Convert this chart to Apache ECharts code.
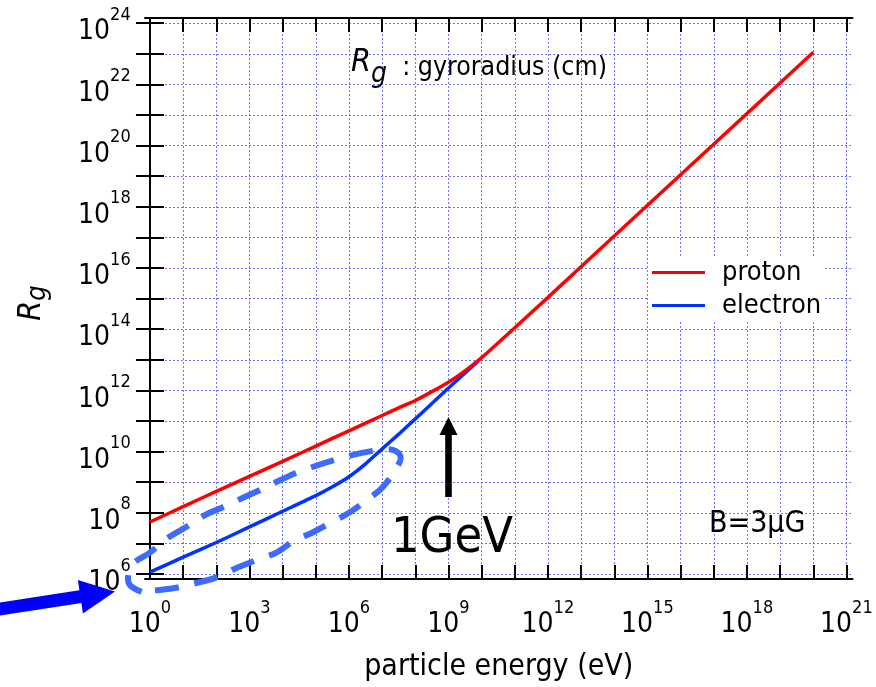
<!DOCTYPE html>
<html>
<head>
<meta charset="utf-8">
<script src="https://cdn.jsdelivr.net/npm/echarts@6.0.0/dist/echarts.min.js"></script>
<style>
html, body { margin: 0; padding: 0; background: #fff; }
#main { width: 876px; height: 687px; }
</style>
</head>
<body>
<div id="main"></div>
<script>
// values are log10: particle energy (eV) -> gyroradius (cm), B = 3 uG
var protonLogE = [0, 1, 2, 3, 4, 5, 6, 7, 7.5, 8, 8.5, 9, 9.5, 10, 11, 12, 15, 20];
var protonLogR = [7.7, 8.2, 8.7, 9.19, 9.68, 10.18, 10.68, 11.18, 11.43, 11.67, 11.96, 12.27, 12.64, 13.07, 14.05, 15.04, 18.05, 23.05];
var electronLogE = [0, 1, 2, 3, 4, 5, 5.5, 6, 6.5, 7, 7.5, 8, 8.5, 9, 9.5, 9.9];
var electronLogR = [6.06, 6.55, 7.03, 7.54, 8.05, 8.56, 8.85, 9.18, 9.6, 10.09, 10.57, 11.07, 11.57, 12.08, 12.57, 12.96];
// dashed loop drawn round the low energy electron part (starts at the bottom left curl)
var loopLogE = [-0.25, -0.6, -0.66, -0.54, 0, 0.55, 1.05, 1.7, 2.15, 2.9, 3.25, 3.95, 4.4, 5.1, 5.6, 6.35, 6.81, 7.11, 7.41, 7.56, 7.41, 6.99, 6.54, 6.0, 5.46, 4.89, 4.35, 3.81, 3.24, 2.64, 2.01, 1.44, 0.84, 0.15, -0.25];
var loopLogR = [5.42, 5.63, 5.89, 6.31, 6.7, 7.19, 7.51, 7.95, 8.16, 8.54, 8.71, 9.08, 9.3, 9.57, 9.74, 9.95, 10.04, 10.08, 10.02, 9.79, 9.43, 8.81, 8.42, 8.0, 7.68, 7.35, 7.09, 6.7, 6.47, 6.21, 5.89, 5.72, 5.56, 5.46, 5.42];
var xTicks = [0, 1, 2, 3, 4, 5, 6, 7, 8, 9, 10, 11, 12, 13, 14, 15, 16, 17, 18, 19, 20, 21];
var xLabels = [0, 3, 6, 9, 12, 15, 18, 21];
var yTicks = [6, 7, 8, 9, 10, 11, 12, 13, 14, 15, 16, 17, 18, 19, 20, 21, 22, 23, 24];
var yLabels = [6, 8, 10, 12, 14, 16, 18, 20, 22, 24];

var FONT = '"DejaVu Sans Condensed", "DejaVu Sans", sans-serif';

function pairs (xs, ys) {
  return xs.map(function (x, i) { return [x, ys[i]] })
}

// 10 with a raised exponent; h is an empty spacer that sets the line height
var powRich = {
  b: { fontSize: 28, lineHeight: 28, verticalAlign: 'bottom', fontFamily: FONT, color: '#000' },
  s: { fontSize: 18, lineHeight: 18, padding: [6, 0, 0, 0], verticalAlign: 'top', fontFamily: FONT, color: '#000' },
  h: { fontSize: 1, lineHeight: 46 }
}
function powLabel (v) {
  return '{b|10}{s|' + Math.round(v) + '}{h| }'
}

var gridLine = { show: true, lineStyle: { color: '#6e6eff', width: 1, type: [2, 2] } }
var tick = { show: true, inside: true, length: 14, lineStyle: { color: '#000', width: 2 } }
var axisLine = { show: true, lineStyle: { color: '#000', width: 2 } }

var chart = echarts.init(document.getElementById('main'))
chart.setOption({
  animation: false,
  backgroundColor: '#fff',
  grid: { left: 145, right: 20, top: 18, bottom: 106 },
  xAxis: [
    {
      type: 'value', min: -0.15, max: 21.18,
      axisLine: axisLine,
      axisTick: Object.assign({ customValues: xTicks }, tick),
      axisLabel: { customValues: xLabels, formatter: powLabel, rich: powRich, margin: 14 },
      splitLine: gridLine,
      name: 'particle energy (eV)', nameLocation: 'middle', nameGap: 73,
      nameTextStyle: { fontSize: 30, fontFamily: FONT, color: '#000' }
    },
    {
      type: 'value', position: 'top', min: -0.15, max: 21.18,
      axisLine: axisLine,
      axisTick: Object.assign({ customValues: xTicks }, tick),
      axisLabel: { show: false },
      splitLine: { show: false }
    }
  ],
  yAxis: [
    {
      type: 'value', min: 5.837, max: 24.17,
      axisLine: axisLine,
      axisTick: Object.assign({ customValues: yTicks }, tick),
      axisLabel: { customValues: yLabels, formatter: powLabel, rich: powRich, margin: 14 },
      splitLine: gridLine
    },
    {
      type: 'value', position: 'right', min: 5.837, max: 24.17,
      axisLine: axisLine,
      axisTick: Object.assign({ customValues: yTicks }, tick),
      axisLabel: { show: false },
      splitLine: { show: false }
    }
  ],
  legend: {
    orient: 'vertical', left: 649, top: 256,
    padding: [3, 3, 3, 3], backgroundColor: '#fff',
    icon: 'rect', itemWidth: 53, itemHeight: 3, itemGap: 6,
    data: ['proton', 'electron'],
    textStyle: { fontSize: 27, lineHeight: 27, fontFamily: FONT, color: '#000', padding: [0, 0, 0, 12] }
  },
  series: [
    {
      name: 'electron', type: 'line', symbol: 'none', smooth: 0.2,
      data: pairs(electronLogE, electronLogR),
      lineStyle: { color: '#0033ff', width: 3.5 }, itemStyle: { color: '#0033ff' }
    },
    {
      name: 'proton', type: 'line', symbol: 'none', smooth: 0.2,
      data: pairs(protonLogE, protonLogR),
      lineStyle: { color: '#ff0000', width: 3.5 }, itemStyle: { color: '#ff0000' }
    }
  ],
  graphic: [
    {
      type: 'text', z: 10, x: 351, y: 47,
      style: {
        text: '{r|R}{g|g}{t|  : gyroradius (cm)}{h| }',
        verticalAlign: 'top',
        rich: {
          r: { fontSize: 32, lineHeight: 32, verticalAlign: 'top', fontStyle: 'italic', fontFamily: FONT, fill: '#000' },
          g: { fontSize: 28, lineHeight: 26, verticalAlign: 'bottom', fontStyle: 'italic', fontFamily: FONT, fill: '#000' },
          t: { fontSize: 26.5, lineHeight: 27, fontFamily: FONT, fill: '#000' },
          h: { fontSize: 1, lineHeight: 42 }
        }
      }
    },
    {
      type: 'text', z: 10, x: 33.5, y: 303, rotation: Math.PI / 2,
      style: {
        text: '{r|R}{g|g}{h| }',
        align: 'center', verticalAlign: 'middle',
        rich: {
          r: { fontSize: 32, lineHeight: 32, verticalAlign: 'top', fontStyle: 'italic', fontFamily: FONT, fill: '#000' },
          g: { fontSize: 27, lineHeight: 27, verticalAlign: 'bottom', fontStyle: 'italic', fontFamily: FONT, fill: '#000' },
          h: { fontSize: 1, lineHeight: 35 }
        }
      }
    },
    {
      type: 'text', z: 10, x: 391, y: 539,
      style: { text: '1GeV', fontSize: 50, fontFamily: FONT, fill: '#000', verticalAlign: 'middle' }
    },
    {
      type: 'text', z: 10, x: 709, y: 524,
      style: { text: 'B=3\u03bcG', fontSize: 30, fontFamily: FONT, fill: '#000', verticalAlign: 'middle' }
    },
    {
      type: 'polygon', z: 10,
      shape: { points: [[445.2, 497], [451.8, 497], [451.8, 435], [457.5, 435], [448.5, 417], [439.5, 435], [445.2, 435]] },
      style: { fill: '#000' }
    },
    {
      type: 'polygon', z: 10,
      shape: { points: [[-6, 603.3], [79.4, 590.3], [77.9, 579.9], [115, 591.5], [82.9, 613.5], [81.4, 603.1], [-4, 616.1]] },
      style: { fill: '#0000ff' }
    }
  ]
})

// the loop runs outside the plot, so place it through the axes and draw it unclipped
var loopPts = pairs(loopLogE, loopLogR).map(function (p) {
  return chart.convertToPixel({ xAxisIndex: 0, yAxisIndex: 0 }, p)
})
chart.setOption({
  graphic: [{
    id: 'loop', type: 'polyline', z: 8, silent: true,
    shape: { points: loopPts, smooth: 0.35 },
    style: { stroke: '#3d6bff', lineWidth: 6, lineDash: [24, 16], lineCap: 'butt', fill: null }
  }]
})
</script>
</body>
</html>
